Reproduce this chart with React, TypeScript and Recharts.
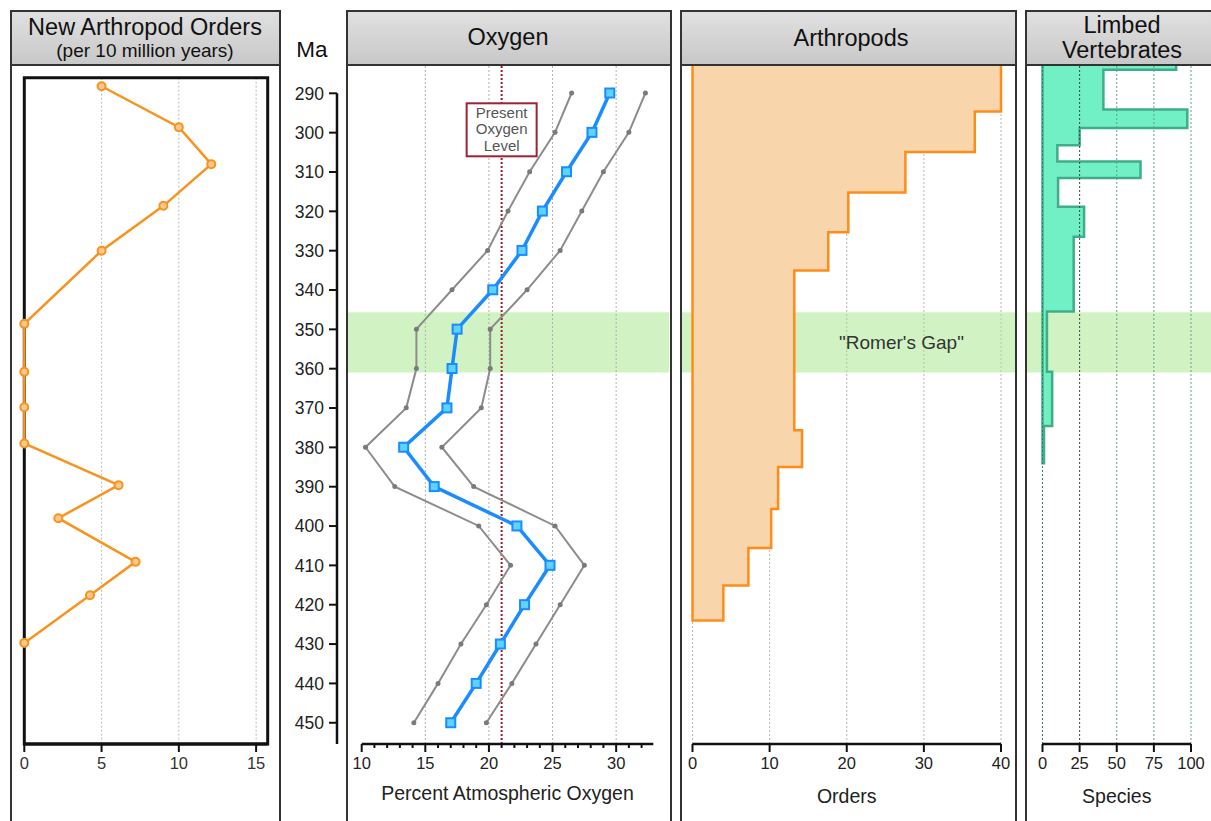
import React from 'react';
import {
  ComposedChart,
  Line,
  Area,
  XAxis,
  YAxis,
  CartesianGrid,
  ReferenceLine,
  ReferenceArea,
} from 'recharts';

// ---------------- data ----------------
const maTicks = [290, 300, 310, 320, 330, 340, 350, 360, 370, 380, 390, 400, 410, 420, 430, 440, 450];

// New arthropod orders (per 10 million years)
const newOrdersMa = [288.2, 298.6, 308.0, 318.6, 330.0, 348.6, 360.8, 369.8, 379.0, 389.6, 398.0, 409.1, 417.6, 429.7];
const newOrdersCount = [5, 10, 12.1, 9, 5, 0, 0, 0, 0, 6.1, 2.2, 7.2, 4.25, 0];

// Oxygen (percent atmospheric)
const oxygenMa = [290, 300, 310, 320, 330, 340, 350, 360, 370, 380, 390, 400, 410, 420, 430, 440, 450];
const oxygenMid = [29.5, 28.1, 26.1, 24.2, 22.6, 20.3, 17.5, 17.1, 16.7, 13.3, 15.7, 22.2, 24.8, 22.8, 20.9, 19.0, 17.0];
const oxygenLow = [26.5, 25.2, 23.2, 21.5, 19.9, 17.1, 14.3, 14.3, 13.5, 10.3, 12.6, 19.2, 21.7, 19.8, 17.8, 16.0, 14.1];
const oxygenHigh = [32.3, 31.0, 29.0, 27.3, 25.6, 23.0, 20.1, 20.1, 19.4, 16.3, 18.8, 25.2, 27.5, 25.6, 23.7, 21.8, 19.8];
const presentOxygen = 21;
const oxygenTicks = [10, 11, 12, 13, 14, 15, 16, 17, 18, 19, 20, 21, 22, 23, 24, 25, 26, 27, 28, 29, 30, 31, 32];
const oxygenGrid = [15, 20, 25, 30];

// Arthropod orders (step outline): bin edges (Ma) and orders per bin
const arthroEdges = [282.5, 294.7, 305.0, 315.3, 325.4, 335.1, 375.7, 385.0, 395.7, 405.6, 415.1, 424.0];
const arthroOrders = [40, 36.6, 27.6, 20.2, 17.6, 13.2, 14.2, 11.1, 10.2, 7.25, 4.0];
const arthroTicks = [0, 10, 20, 30, 40];

// Limbed vertebrates (step outline): bin edges (Ma) and species per bin
const vertEdges = [282.5, 284.1, 294.2, 298.9, 303.3, 307.4, 311.6, 318.9, 326.5, 345.5, 360.8, 374.6, 384.1];
const vertSpecies = [90, 41, 97.5, 25, 10, 66, 10.5, 28, 21, 3, 6.5, 1];
const vertTicks = [0, 25, 50, 75, 100];

const newOrdersTicks = [0, 5, 10, 15];
const romerGap = [345.7, 361.0];

// ---------------- helpers ----------------
const FONT = "'Liberation Sans', Arial, Helvetica, sans-serif";
const MA_DOMAIN: [number, number] = [283.14, 455.4];
const TICK_FONT = 16.5;

function stepOutline(edges: number[], values: number[]) {
  const pts: { ma: number; v: number }[] = [{ ma: edges[0], v: 0 }];
  values.forEach((v, i) => {
    pts.push({ ma: edges[i], v });
    pts.push({ ma: edges[i + 1], v });
  });
  pts.push({ ma: edges[edges.length - 1], v: 0 });
  pts.push({ ma: edges[0], v: 0 });
  return pts;
}

const newOrdersData = newOrdersMa.map((ma, i) => ({ ma, v: newOrdersCount[i] }));
const oxygenData = oxygenMa.map((ma, i) => ({ ma, low: oxygenLow[i], mid: oxygenMid[i], high: oxygenHigh[i] }));
const arthroData = stepOutline(arthroEdges, arthroOrders);
const vertData = stepOutline(vertEdges, vertSpecies);
const maAxisData = maTicks.map((ma) => ({ ma, x: 0 }));

const Panel = ({ left, width }: { left: number; width: number }) => (
  <div
    style={{
      position: 'absolute',
      left,
      top: 10,
      width,
      height: 900,
      border: '2px solid #333',
      boxSizing: 'border-box',
      background: '#fff',
    }}
  >
    <div
      style={{
        position: 'absolute',
        left: 0,
        right: 0,
        top: 0,
        height: 52,
        borderBottom: '2px solid #333',
        background: 'linear-gradient(#e0e0e0, #c8c8c8)',
      }}
    />
  </div>
);

const HText = ({ cx, top, size, children }: { cx: number; top: number; size: number; children: React.ReactNode }) => (
  <div
    style={{
      position: 'absolute',
      left: cx - 160,
      width: 320,
      top,
      textAlign: 'center',
      fontSize: size,
      lineHeight: `${size}px`,
      color: '#111',
      whiteSpace: 'nowrap',
    }}
  >
    {children}
  </div>
);

const OxTick = (p: any) => {
  const v = p.payload.value;
  const major = v % 5 === 0;
  return (
    <g>
      <line x1={p.x} x2={p.x} y1={p.y} y2={p.y + (major ? 8 : 4)} stroke="#111" strokeWidth={2} />
      {major && (
        <text x={p.x} y={p.y + 25} textAnchor="middle" fontSize={TICK_FONT} fill="#222">
          {v}
        </text>
      )}
    </g>
  );
};

const PresentLabel = (p: any) => {
  const vb = p.viewBox || { x: 0, y: 0 };
  const cx = vb.x;
  const top = vb.y + 37.3;
  return (
    <g>
      <rect x={cx - 35} y={top} width={70} height={53} fill="#fff" stroke="#9b2335" strokeWidth={2} />
      <text x={cx} y={top + 15} textAnchor="middle" fontSize={15} fill="#555">Present</text>
      <text x={cx} y={top + 31} textAnchor="middle" fontSize={15} fill="#555">Oxygen</text>
      <text x={cx} y={top + 47.5} textAnchor="middle" fontSize={15} fill="#555">Level</text>
    </g>
  );
};

const RomerLabel = (p: any) => {
  const vb = p.viewBox || { x: 0, y: 0, width: 0, height: 0 };
  return (
    <text
      x={vb.x + vb.width / 2 + 53}
      y={vb.y + vb.height / 2}
      textAnchor="middle"
      dominantBaseline="central"
      fontSize={19}
      fill="#333"
    >
      "Romer's Gap"
    </text>
  );
};

const SquareDot = (p: any) => (
  <rect
    key={`sq-${p.index}`}
    x={p.cx - 4.5}
    y={p.cy - 4.5}
    width={9}
    height={9}
    fill="#5fd3ff"
    stroke="#1a8cff"
    strokeWidth={2}
  />
);

const BAND_FILL = '#9fe683';
const BAND_OPACITY = 0.48;

export default function App() {
  // panel geometry (px) used for chart margins
  const oxL = 13.7, oxR = 15.7, oxMax = 32.92;
  const oxScale = (321 - oxL - oxR) / (oxMax - 10);
  const arL = 10.5, arR = 14;
  const arScale = (333 - arL - arR) / 40;
  const veL = 15.5, veR = 20;
  const veScale = (184 - veL - veR) / 100;

  return (
    <div
      style={{
        position: 'absolute',
        left: 0,
        top: 0,
        width: 1211,
        height: 821,
        overflow: 'hidden',
        background: '#fff',
        fontFamily: FONT,
      }}
    >
      <Panel left={10} width={271} />
      <Panel left={346} width={326} />
      <Panel left={680} width={337} />
      <Panel left={1025} width={220} />

      <HText cx={145} top={15.5} size={23.5}>New Arthropod Orders</HText>
      <HText cx={145} top={41} size={19}>(per 10 million years)</HText>
      <HText cx={508} top={26.3} size={23.5}>Oxygen</HText>
      <HText cx={851} top={26.5} size={23.5}>Arthropods</HText>
      <HText cx={1122} top={14} size={23.5}>Limbed</HText>
      <HText cx={1122} top={39.3} size={23.5}>Vertebrates</HText>
      <HText cx={312} top={39.2} size={22.5}>Ma</HText>

      {/* Panel 1: new arthropod orders */}
      <div style={{ position: 'absolute', left: 12, top: 66 }}>
        <ComposedChart
          layout="vertical"
          width={266}
          height={755}
          data={newOrdersData}
          margin={{ top: 11.7, right: 10.3, bottom: 0, left: 12.3 }}
        >
          <CartesianGrid horizontal={false} stroke="#bbb" strokeDasharray="2 2" />
          <ReferenceArea
            x1={0}
            x2={15.75}
            y1={286.03}
            y2={455.4}
            fill="none"
            stroke="#111"
            strokeWidth={3}
            ifOverflow="visible"
          />
          <XAxis
            type="number"
            domain={[0, 15.75]}
            ticks={newOrdersTicks}
            interval={0}
            height={77}
            tickSize={8}
            tickMargin={5}
            axisLine={{ stroke: '#111', strokeWidth: 3 }}
            tickLine={{ stroke: '#111', strokeWidth: 2 }}
            tick={{ fill: '#333', fontSize: TICK_FONT }}
          />
          <YAxis hide type="number" dataKey="ma" domain={[286.03, 455.4]} />
          <Line
            dataKey="v"
            stroke="#f7931e"
            strokeWidth={2.5}
            dot={{ r: 4, fill: '#fcc88e', stroke: '#f7931e', strokeWidth: 2 }}
            isAnimationActive={false}
          />
        </ComposedChart>
      </div>

      {/* Ma axis */}
      <div style={{ position: 'absolute', left: 281, top: 66 }}>
        <ComposedChart
          layout="vertical"
          width={65}
          height={755}
          data={maAxisData}
          margin={{ top: 27.3, right: 0, bottom: 77, left: 0 }}
        >
          <XAxis type="number" hide domain={[0, 1]} />
          <YAxis
            type="number"
            dataKey="ma"
            domain={[290, 455.4]}
            ticks={maTicks}
            interval={0}
            width={56}
            tickSize={8}
            tickMargin={5}
            allowDataOverflow
            axisLine={{ stroke: '#111', strokeWidth: 2.5 }}
            tickLine={{ stroke: '#111', strokeWidth: 2 }}
            tick={{ fill: '#222', fontSize: 17.5 }}
          />
          <Line dataKey="x" stroke="none" dot={false} isAnimationActive={false} />
        </ComposedChart>
      </div>

      {/* Panel 2: oxygen */}
      <div style={{ position: 'absolute', left: 348, top: 66 }}>
        <ComposedChart
          layout="vertical"
          width={321}
          height={755}
          data={oxygenData}
          margin={{ top: 0, right: oxR, bottom: 0, left: oxL }}
        >
          {oxygenGrid.map((g) => (
            <ReferenceLine key={g} x={g} stroke="#b0b0b0" strokeDasharray="2 2" />
          ))}
          <ReferenceArea
            x1={10 - oxL / oxScale}
            x2={oxMax + oxR / oxScale}
            y1={romerGap[0]}
            y2={romerGap[1]}
            fill={BAND_FILL}
            fillOpacity={BAND_OPACITY}
            stroke="none"
            ifOverflow="visible"
          />
          <XAxis
            type="number"
            domain={[10, oxMax]}
            ticks={oxygenTicks}
            interval={0}
            height={77}
            tickSize={0}
            tickMargin={0}
            tickLine={false}
            axisLine={{ stroke: '#111', strokeWidth: 2.5 }}
            tick={OxTick}
            label={{ value: 'Percent Atmospheric Oxygen', position: 'insideBottom', offset: 21, fontSize: 19.5, fill: '#222' }}
          />
          <YAxis hide type="number" dataKey="ma" domain={MA_DOMAIN} />
          <ReferenceLine
            x={presentOxygen}
            stroke="#9b1c2c"
            strokeWidth={2}
            strokeDasharray="2 2"
            label={PresentLabel}
          />
          <Line
            dataKey="low"
            stroke="#8c8c8c"
            strokeWidth={2}
            dot={{ r: 2.5, fill: '#7a7a7a', stroke: '#7a7a7a', strokeWidth: 0 }}
            isAnimationActive={false}
          />
          <Line
            dataKey="high"
            stroke="#8c8c8c"
            strokeWidth={2}
            dot={{ r: 2.5, fill: '#7a7a7a', stroke: '#7a7a7a', strokeWidth: 0 }}
            isAnimationActive={false}
          />
          <Line dataKey="mid" stroke="#1a8cff" strokeWidth={3.5} dot={SquareDot} isAnimationActive={false} />
        </ComposedChart>
      </div>

      {/* Panel 3: arthropods */}
      <div style={{ position: 'absolute', left: 682, top: 66 }}>
        <ComposedChart
          layout="vertical"
          width={333}
          height={755}
          data={arthroData}
          margin={{ top: 0, right: arR, bottom: 0, left: arL }}
        >
          <CartesianGrid horizontal={false} stroke="#b5b5b5" strokeDasharray="2 2" />
          <ReferenceArea
            x1={-arL / arScale}
            x2={40 + arR / arScale}
            y1={romerGap[0]}
            y2={romerGap[1]}
            fill={BAND_FILL}
            fillOpacity={BAND_OPACITY}
            stroke="none"
            ifOverflow="visible"
            label={RomerLabel}
          />
          <XAxis
            type="number"
            domain={[0, 40]}
            ticks={arthroTicks}
            interval={0}
            height={77}
            tickSize={8}
            tickMargin={5}
            axisLine={{ stroke: '#111', strokeWidth: 2.5 }}
            tickLine={{ stroke: '#111', strokeWidth: 2 }}
            tick={{ fill: '#222', fontSize: TICK_FONT }}
            label={{ value: 'Orders', position: 'insideBottom', offset: 18, fontSize: 19.5, fill: '#222' }}
          />
          <YAxis hide type="number" dataKey="ma" domain={MA_DOMAIN} allowDataOverflow />
          <Area
            type="linear"
            dataKey="v"
            baseValue={0}
            fill="#f8d5ab"
            fillOpacity={1}
            stroke="#ff8c1a"
            strokeWidth={2.5}
            isAnimationActive={false}
          />
        </ComposedChart>
      </div>

      {/* Panel 4: limbed vertebrates */}
      <div style={{ position: 'absolute', left: 1027, top: 66 }}>
        <ComposedChart
          layout="vertical"
          width={184}
          height={755}
          data={vertData}
          margin={{ top: 0, right: veR, bottom: 0, left: veL }}
        >
          <ReferenceArea
            x1={-veL / veScale}
            x2={100 + veR / veScale}
            y1={romerGap[0]}
            y2={romerGap[1]}
            fill={BAND_FILL}
            fillOpacity={BAND_OPACITY}
            stroke="none"
            ifOverflow="visible"
          />
          <XAxis
            type="number"
            domain={[0, 100]}
            ticks={vertTicks}
            interval={0}
            height={77}
            tickSize={8}
            tickMargin={5}
            axisLine={{ stroke: '#111', strokeWidth: 2.5 }}
            tickLine={{ stroke: '#111', strokeWidth: 2 }}
            tick={{ fill: '#222', fontSize: TICK_FONT }}
            label={{ value: 'Species', position: 'insideBottom', offset: 18, fontSize: 19.5, fill: '#222' }}
          />
          <YAxis hide type="number" dataKey="ma" domain={MA_DOMAIN} allowDataOverflow />
          <Area
            type="linear"
            dataKey="v"
            baseValue={0}
            fill="#70f0c4"
            fillOpacity={1}
            stroke="#3fae86"
            strokeWidth={2.5}
            isAnimationActive={false}
          />
          <ReferenceLine x={0} stroke="#2f7f62" strokeDasharray="2 2" />
          <ReferenceLine x={25} stroke="#3a4a44" strokeDasharray="2 2" />
          <ReferenceLine x={50} stroke="#6a9c88" strokeDasharray="2 2" />
          <ReferenceLine x={75} stroke="#6a9c88" strokeDasharray="2 2" />
          <ReferenceLine x={100} stroke="#6a9c88" strokeDasharray="2 2" />
        </ComposedChart>
      </div>
    </div>
  );
}
